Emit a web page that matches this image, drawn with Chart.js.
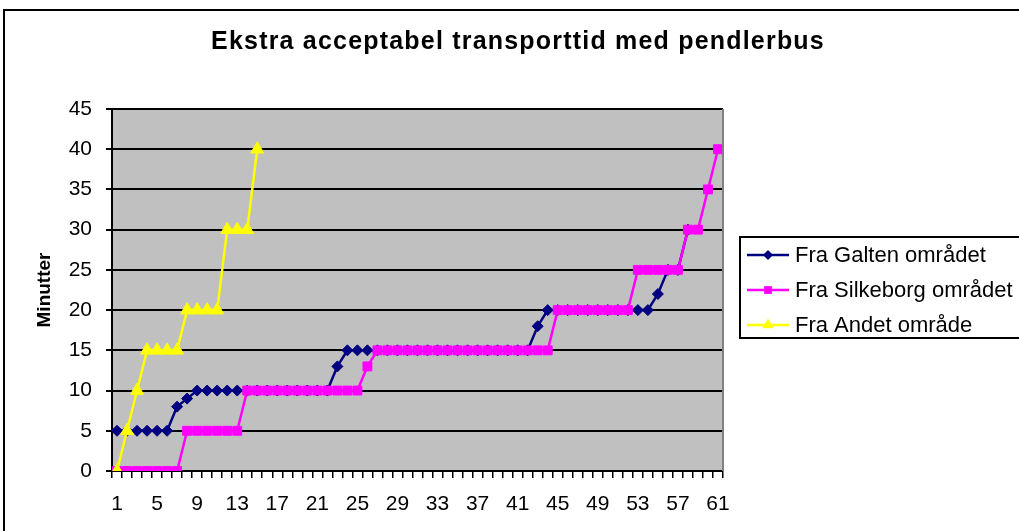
<!DOCTYPE html>
<html>
<head>
<meta charset="utf-8">
<script src="https://cdn.jsdelivr.net/npm/chart.js@4/dist/chart.umd.min.js"></script>
<style>
  html, body { margin: 0; padding: 0; background: #fff; overflow: hidden; }
</style>
</head>
<body>
<canvas id="chart" width="1019" height="531"></canvas>
<script>
// Kategorier (respondent nr.) og værdier
const categories = [1, 2, 3, 4, 5, 6, 7, 8, 9, 10, 11, 12, 13, 14, 15, 16, 17, 18, 19, 20,
    21, 22, 23, 24, 25, 26, 27, 28, 29, 30, 31, 32, 33, 34, 35, 36, 37, 38, 39, 40,
    41, 42, 43, 44, 45, 46, 47, 48, 49, 50, 51, 52, 53, 54, 55, 56, 57, 58, 59, 60, 61];

const galten = [5, 5, 5, 5, 5, 5, 8, 9, 10, 10, 10, 10, 10, 10, 10, 10, 10, 10, 10, 10,
    10, 10, 13, 15, 15, 15, 15, 15, 15, 15, 15, 15, 15, 15, 15, 15, 15, 15, 15, 15,
    15, 15, 18, 20, 20, 20, 20, 20, 20, 20, 20, 20, 20, 20, 22, 25, 25, 30];

const silkeborg = [0, 0, 0, 0, 0, 0, 0, 5, 5, 5, 5, 5, 5, 10, 10, 10, 10, 10, 10, 10,
    10, 10, 10, 10, 10, 13, 15, 15, 15, 15, 15, 15, 15, 15, 15, 15, 15, 15, 15, 15,
    15, 15, 15, 15, 20, 20, 20, 20, 20, 20, 20, 20, 25, 25, 25, 25, 25, 30, 30, 35, 40];

const andet = [0, 5, 10, 15, 15, 15, 15, 20, 20, 20, 20, 30, 30, 30, 40];

const xTickLabels = ['1', '5', '9', '13', '17', '21', '25', '29', '33', '37', '41', '45', '49', '53', '57', '61'];
const yTickLabels = [0, 5, 10, 15, 20, 25, 30, 35, 40, 45];

const chartTitle = 'Ekstra acceptabel transporttid med pendlerbus';
const FONT = "'Liberation Sans', Arial, sans-serif";

function drawMarker(ctx, style, x, y, r, color) {
    ctx.save();
    ctx.fillStyle = color;
    ctx.beginPath();
    if (style === 'rectRot') {
        ctx.moveTo(x, y - r);
        ctx.lineTo(x + r, y);
        ctx.lineTo(x, y + r);
        ctx.lineTo(x - r, y);
    } else if (style === 'rect') {
        const s = r * Math.SQRT1_2;
        ctx.rect(x - s, y - s, 2 * s, 2 * s);
    } else {
        ctx.moveTo(x, y - r);
        ctx.lineTo(x + r * 0.866, y + r * 0.5);
        ctx.lineTo(x - r * 0.866, y + r * 0.5);
    }
    ctx.closePath();
    ctx.fill();
    ctx.restore();
}

// Grå plotflade, titel, ramme og forklaring som i Excel
const excelLook = {
    id: 'excelLook',
    beforeDraw(chart) {
        const { ctx, chartArea: a } = chart;
        ctx.save();
        ctx.fillStyle = '#C0C0C0';
        ctx.fillRect(a.left, a.top, a.right - a.left, a.bottom - a.top);
        ctx.restore();
    },
    afterDraw(chart) {
        const { ctx, chartArea: a } = chart;
        ctx.save();
        // højre kant af plotfladen
        ctx.strokeStyle = '#808080';
        ctx.lineWidth = 2;
        ctx.beginPath();
        ctx.moveTo(a.right, a.top);
        ctx.lineTo(a.right, a.bottom);
        ctx.stroke();

        // ydre ramme
        ctx.strokeStyle = '#000';
        ctx.lineWidth = 2;
        ctx.strokeRect(4, 10, 1040, 560);

        // titel, centreret over hele figuren
        ctx.fillStyle = '#000';
        ctx.font = 'bold 25px ' + FONT;
        ctx.letterSpacing = '1.2px';
        ctx.textAlign = 'center';
        ctx.textBaseline = 'alphabetic';
        ctx.fillText(chartTitle, 518, 49);
        ctx.letterSpacing = '0px';

        // forklaring
        ctx.strokeRect(740, 237, 300, 101);
        ctx.font = '22px ' + FONT;
        ctx.textAlign = 'left';
        ctx.textBaseline = 'middle';
        chart.data.datasets.forEach((ds, i) => {
            const y = 255 + i * 35;
            ctx.strokeStyle = ds.borderColor;
            ctx.lineWidth = 2.5;
            ctx.beginPath();
            ctx.moveTo(747, y);
            ctx.lineTo(789, y);
            ctx.stroke();
            drawMarker(ctx, ds.pointStyle, 768, y, ds.legendRadius, ds.borderColor);
            ctx.fillStyle = '#000';
            ctx.fillText(ds.label, 795, y + 1);
        });
        ctx.restore();
    }
};

const ctx = document.getElementById('chart').getContext('2d');
const chart = new Chart(ctx, {
    type: 'line',
    data: {
        labels: categories,
        datasets: [{
            label: 'Fra Galten området',
            data: galten,
            borderColor: '#000080',
            backgroundColor: '#000080',
            borderWidth: 2.5,
            pointStyle: 'rectRot',
            pointRadius: 5.5,
            pointBorderWidth: 1,
            legendRadius: 5,
            order: 3
        }, {
            label: 'Fra Silkeborg området',
            data: silkeborg,
            borderColor: '#FF00FF',
            backgroundColor: '#FF00FF',
            borderWidth: 2.5,
            pointStyle: 'rect',
            pointRadius: 6.3,
            pointBorderWidth: 1,
            legendRadius: 5.5,
            order: 2
        }, {
            label: 'Fra Andet område',
            data: andet,
            borderColor: '#FFFF00',
            backgroundColor: '#FFFF00',
            borderWidth: 2.5,
            pointStyle: 'triangle',
            pointRadius: 7.5,
            pointBorderWidth: 1,
            legendRadius: 6.5,
            order: 1
        }]
    },
    options: {
        responsive: false,
        animation: false,
        layout: { padding: { left: 24, right: 296, top: 109, bottom: 0 } },
        plugins: {
            legend: { display: false },
            tooltip: { enabled: false },
            title: { display: false }
        },
        scales: {
            x: {
                offset: true,
                afterFit(scale) { scale.height = 60; },
                grid: {
                    display: true,
                    offset: true,
                    drawOnChartArea: false,
                    drawTicks: true,
                    tickLength: 7,
                    color: '#000',
                    lineWidth: 1.5
                },
                border: { display: true, color: '#000', width: 2 },
                ticks: {
                    autoSkip: false,
                    maxRotation: 0,
                    padding: 14,
                    color: '#000',
                    font: { family: FONT, size: 21 },
                    callback(value) {
                        const l = String(this.getLabelForValue(value));
                        return xTickLabels.includes(l) ? l : '';
                    }
                }
            },
            y: {
                min: 0,
                max: 45,
                afterFit(scale) { scale.width = 88; },
                afterBuildTicks(scale) { scale.ticks = yTickLabels.map(v => ({ value: v })); },
                grid: {
                    color: '#000',
                    lineWidth: 2,
                    drawTicks: true,
                    tickLength: 6
                },
                border: { display: true, color: '#000', width: 2 },
                ticks: {
                    padding: 14,
                    color: '#000',
                    font: { family: FONT, size: 21 }
                },
                title: {
                    display: true,
                    text: 'Minutter',
                    color: '#000',
                    font: { family: FONT, size: 19, weight: 'bold' },
                    padding: { top: 9, bottom: 0 }
                }
            }
        }
    },
    plugins: [excelLook]
});
</script>
</body>
</html>
